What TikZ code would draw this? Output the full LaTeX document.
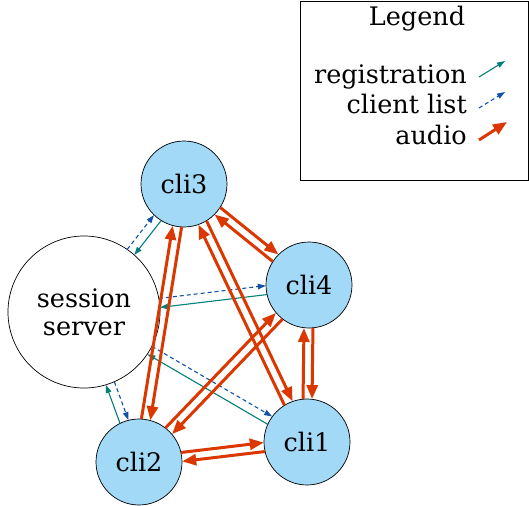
\documentclass[tikz,border=0pt]{standalone}
\usepackage{fontspec}
\setmainfont{DejaVu Serif}
\usetikzlibrary{arrows.meta,calc}
\definecolor{audioc}{RGB}{218,56,0}
\definecolor{regc}{RGB}{0,128,120}
\definecolor{listc}{RGB}{16,82,170}
\definecolor{clientfill}{RGB}{162,217,247}
\newcommand\offs{4.5pt}
% directed edge from #2 to #3, shifted to the left of its direction
\newcommand\link[5]{%
  \draw[#1, shorten <=#4, shorten >=#5]
    ($(#2)!\offs!90:(#3)$) -- ($(#3)!\offs!-90:(#2)$);}
\begin{document}
\begin{tikzpicture}[x=1pt,y=-1pt,
  font=\fontsize{25.5}{27.7}\selectfont,
  server/.style={circle, draw, line width=0.7pt, fill=white, minimum size=152pt, inner sep=0pt, align=center},
  client/.style={circle, draw, line width=0.7pt, fill=clientfill, minimum size=86pt, inner sep=0pt},
  audio/.style={audioc, line width=3pt, -{Triangle[length=14pt,width=11pt]}},
  reg/.style={regc, line width=1.1pt, -{Triangle[length=8pt,width=5.5pt]}},
  clist/.style={listc, line width=1.1pt, dash pattern=on 4pt off 3pt, -{Triangle[length=8pt,width=5.5pt]}},
  legtext/.style={anchor=base east, inner sep=0pt}]
\useasboundingbox (0,0) rectangle (529,505);

% nodes
\node[server] (srv) at (84,312) {session\\server};
\node[client] (c3) at (184,184) {cli3};
\node[client] (c4) at (309,285) {cli4};
\node[client] (c1) at (307,442) {cli1};
\node[client] (c2) at (139,462) {cli2};

% registration and client list
\foreach \c in {c1,c2,c3,c4}{
  \link{reg}{\c}{srv}{43pt}{76pt}
  \link{clist}{srv}{\c}{76pt}{43pt}
}

% audio between every pair of clients, both ways
\foreach \a/\b in {c1/c2,c1/c3,c1/c4,c2/c3,c2/c4,c3/c4}{
  \link{audio}{\a}{\b}{43pt}{43pt}
  \link{audio}{\b}{\a}{43pt}{43pt}
}

% legend
\draw[line width=0.7pt] (300,1) rectangle (528.6,180);
\node[anchor=base, inner sep=0pt] (legtitle) at (417,26) {Legend};
\node[legtext] (lreg) at (467,83.3) {registration};
\node[legtext] (llist) at (467,114) {client list};
\node[legtext] (laud) at (467,145) {audio};
\coordinate (r0) at (479,77);  \coordinate (r1) at (505,61);
\coordinate (l0) at (479,108); \coordinate (l1) at (505,92);
\coordinate (a0) at (479,140); \coordinate (a1) at (507,122);
\draw[reg] (r0) -- (r1);
\draw[clist] (l0) -- (l1);
\draw[audio] (a0) -- (a1);
\end{tikzpicture}
\end{document}
